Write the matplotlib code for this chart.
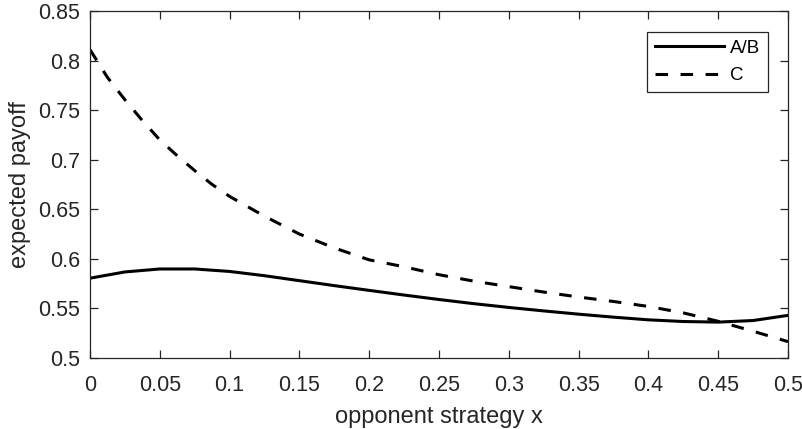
import matplotlib
matplotlib.use("Agg")
import matplotlib.pyplot as plt

plt.rcParams['font.family'] = ['Liberation Sans', 'DejaVu Sans']

# strategy values at which the A/B payoff was read
x_ab = [0.0, 0.025, 0.05, 0.075, 0.1, 0.125, 0.15, 0.175, 0.2, 0.225, 0.25,
        0.275, 0.3, 0.325, 0.35, 0.375, 0.4, 0.425, 0.45, 0.475, 0.5]
payoff_ab = [0.5805, 0.5868, 0.5898, 0.5898, 0.5873, 0.5830, 0.5780, 0.5730, 0.5682,
             0.5635, 0.5590, 0.5548, 0.5510, 0.5475, 0.5442, 0.5412, 0.5385, 0.5368,
             0.5362, 0.5378, 0.5430]

# strategy values at which the C payoff was read
x_c = [0.0, 0.0125, 0.025, 0.0375, 0.05, 0.0625, 0.075, 0.0875, 0.1, 0.125, 0.15,
       0.175, 0.2, 0.225, 0.25, 0.275, 0.3, 0.325, 0.35, 0.375, 0.4, 0.425, 0.45,
       0.475, 0.5]
payoff_c = [0.811, 0.783, 0.7605, 0.7395, 0.720, 0.704, 0.689, 0.675, 0.663, 0.643,
            0.625, 0.611, 0.599, 0.592, 0.584, 0.5775, 0.572, 0.5665, 0.5615, 0.557,
            0.552, 0.5455, 0.537, 0.527, 0.5165]

xticks = [0, 0.05, 0.1, 0.15, 0.2, 0.25, 0.3, 0.35, 0.4, 0.45, 0.5]
xtick_labels = ['0', '0.05', '0.1', '0.15', '0.2', '0.25', '0.3', '0.35', '0.4', '0.45', '0.5']
yticks = [0.5, 0.55, 0.6, 0.65, 0.7, 0.75, 0.8, 0.85]
ytick_labels = ['0.5', '0.55', '0.6', '0.65', '0.7', '0.75', '0.8', '0.85']

fig = plt.figure(figsize=(8.03, 4.29), dpi=100)
ax = fig.add_axes([90/803, 1 - 358/429, (788-90)/803, (358-11)/429])

ax.plot(x_ab, payoff_ab, color='black', lw=2.2, label='A/B',
        solid_joinstyle='round')
ax.plot(x_c, payoff_c, color='black', lw=2.2, dashes=(4.1, 4.1), label='C',
        dash_joinstyle='round')

ax.set_xlim(0, 0.5)
ax.set_ylim(0.5, 0.85)
ax.set_xticks(xticks)
ax.set_xticklabels(xtick_labels)
ax.set_yticks(yticks)
ax.set_yticklabels(ytick_labels)

gray = '#262626'
for s in ax.spines.values():
    s.set_color(gray)
    s.set_linewidth(0.9)
ax.tick_params(direction='in', length=6, width=0.9, color=gray, labelcolor=gray,
               labelsize=15.5, top=True, right=True)
ax.tick_params(axis='x', pad=12.5)
ax.tick_params(axis='y', pad=7)
ax.set_xlabel('opponent strategy x', fontsize=17, color=gray, labelpad=7)
ax.set_ylabel('expected payoff', fontsize=17, color=gray, labelpad=5)

leg = ax.legend(loc='upper right', bbox_to_anchor=((768-90)/698, (358-32)/347),
                fontsize=13.5, handlelength=3.7, handletextpad=0.3, borderpad=0.42,
                labelspacing=0.55, fancybox=False, framealpha=1, edgecolor=gray,
                borderaxespad=0)
leg.get_frame().set_linewidth(0.9)

fig.savefig('out.png', dpi=100)
